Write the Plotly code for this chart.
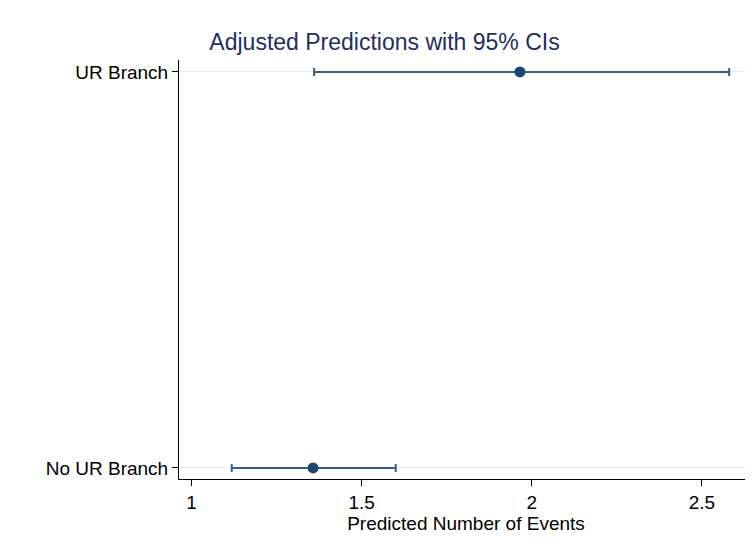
import plotly.graph_objects as go

categories = ["No UR Branch", "UR Branch"]
cat_pos = [0, 1]
estimates = [1.357, 1.965]
ci_lower = [1.118, 1.360]
ci_upper = [1.600, 2.580]

tick_vals = [1, 1.5, 2, 2.5]
tick_text = ["1", "1.5", "2", "2.5"]

navy = "#1a476f"

fig = go.Figure()
fig.add_trace(go.Scatter(
    x=estimates, y=cat_pos, mode="markers",
    marker=dict(color=navy, size=11),
    error_x=dict(type="data", symmetric=False,
                 array=[u - e for u, e in zip(ci_upper, estimates)],
                 arrayminus=[e - l for e, l in zip(estimates, ci_lower)],
                 color="#2f5f8a", thickness=2, width=4),
    showlegend=False, hoverinfo="x+y",
))

W, H = 745, 539
fig.update_layout(
    width=W, height=H,
    margin=dict(l=171, r=0, t=52, b=68),
    paper_bgcolor="white", plot_bgcolor="white",
    font=dict(family="Liberation Sans, Arial, sans-serif", color="black"),
    title=dict(text="Adjusted Predictions with 95% CIs", x=(384.5 - 8) / W, xanchor="center",
               y=1 - 34 / H, yanchor="middle", xref="container", yref="container",
               font=dict(size=23, color="#1e2f5e")),
    xaxis=dict(range=[0.963, 2.65], tickvals=tick_vals, ticktext=tick_text,
               showline=True, linecolor="black", linewidth=1,
               ticks="outside", ticklen=6, tickcolor="black",
               showgrid=False, zeroline=False, tickfont=dict(size=19),
               title=dict(text="Predicted Number of Events", font=dict(size=19), standoff=3)),
    yaxis=dict(range=[-0.028, 1.03], tickvals=cat_pos, ticktext=categories,
               showline=True, linecolor="black", linewidth=1,
               ticks="outside", ticklen=6, tickcolor="black",
               showgrid=True, gridcolor="#eaeaea", gridwidth=1,
               zeroline=False, tickfont=dict(size=19)),
)

fig.write_html("out.html")
